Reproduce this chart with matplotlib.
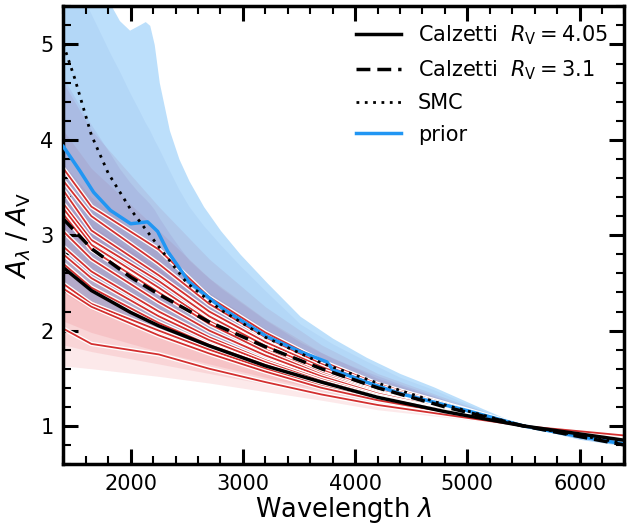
import numpy as np
import matplotlib
matplotlib.use("Agg")
import matplotlib.pyplot as plt
import matplotlib.patheffects as pe
from matplotlib.ticker import MultipleLocator

# wavelength nodes (Angstrom)
wave = [1400, 1650, 2250, 2700, 3200, 3700, 4200, 5500, 6400]
wave_fid = [1400, 1650, 2000, 2250, 2700, 3200, 3700, 4200, 4800, 5500, 6400]

# fiducial curves
calz_405 = [2.66, 2.42, 2.19, 2.05, 1.84, 1.63, 1.46, 1.30, 1.15, 1.00, 0.85]
calz_31 = [3.17, 2.86, 2.56, 2.38, 2.09, 1.83, 1.60, 1.40, 1.20, 1.00, 0.80]

wave_smc = [1400, 1500, 1650, 1800, 2000, 2250, 2500, 2800, 3200, 3700, 4200, 4800, 5500, 6400]
smc = [5.00, 4.65, 4.05, 3.65, 3.27, 2.88, 2.50, 2.22, 1.93, 1.66, 1.45, 1.22, 1.00, 0.82]

wave_prior = [1400, 1550, 1670, 1820, 2000, 2150, 2240, 2330, 2520, 2820, 3210,
              3510, 3750, 3800, 4100, 4400, 5000, 5500, 6000, 6400]
prior_med = [3.93, 3.67, 3.45, 3.26, 3.12, 3.14, 3.04, 2.83, 2.51, 2.23, 1.94,
             1.78, 1.67, 1.59, 1.46, 1.34, 1.16, 1.00, 0.89, 0.81]

# prior bands (outer to inner)
wave_pb = [1400, 1615, 1820, 1900, 1990, 2070, 2130, 2170, 2210, 2255, 2345,
           2430, 2520, 2650, 2800, 2976, 3216, 3510, 3800, 4100, 4400, 4700,
           5140, 5500, 6000, 6400]
prior_hi1 = [6.2, 5.8, 5.42, 5.25, 5.15, 5.20, 5.24, 5.20, 5.00, 4.60, 4.10,
             3.80, 3.57, 3.30, 3.05, 2.80, 2.50, 2.15, 1.92, 1.72, 1.55, 1.41,
             1.18, 1.00, 0.90, 0.84]
prior_lo1 = [2.45, 2.33, 2.22, 2.17, 2.12, 2.08, 2.05, 2.03, 2.01, 1.98, 1.94,
             1.90, 1.86, 1.81, 1.75, 1.68, 1.59, 1.48, 1.39, 1.31, 1.23, 1.16,
             1.06, 1.00, 0.86, 0.79]
prior_hi2 = [6.0, 5.40, 4.90, 4.72, 4.50, 4.32, 4.18, 4.10, 4.00, 3.90, 3.68,
             3.48, 3.30, 3.10, 2.90, 2.68, 2.40, 2.07, 1.86, 1.68, 1.51, 1.38,
             1.16, 1.00, 0.89, 0.83]
prior_lo2 = [2.75, 2.60, 2.48, 2.42, 2.36, 2.31, 2.27, 2.25, 2.22, 2.18, 2.12,
             2.07, 2.02, 1.96, 1.89, 1.80, 1.69, 1.56, 1.45, 1.36, 1.27, 1.19,
             1.07, 1.00, 0.86, 0.80]
prior_hi3 = [4.65, 4.22, 3.85, 3.70, 3.56, 3.45, 3.38, 3.33, 3.27, 3.18, 3.02,
             2.88, 2.74, 2.60, 2.45, 2.30, 2.10, 1.88, 1.71, 1.57, 1.44, 1.32,
             1.13, 1.00, 0.885, 0.82]
prior_lo3 = [3.05, 2.88, 2.74, 2.68, 2.62, 2.57, 2.53, 2.51, 2.48, 2.44, 2.37,
             2.30, 2.24, 2.16, 2.07, 1.97, 1.82, 1.66, 1.53, 1.42, 1.31, 1.22,
             1.08, 1.00, 0.87, 0.80]

# posterior bands (outer to inner)
post_lo = [
    [1.63, 1.60, 1.52, 1.45, 1.36, 1.27, 1.17, 1.00, 0.92],
    [1.85, 1.78, 1.65, 1.55, 1.44, 1.33, 1.22, 1.00, 0.91],
    [2.10, 1.98, 1.78, 1.65, 1.51, 1.38, 1.26, 1.00, 0.90],
    [2.40, 2.22, 1.95, 1.77, 1.59, 1.43, 1.30, 1.00, 0.89],
]
post_hi = [
    [4.60, 4.10, 3.30, 2.75, 2.25, 1.85, 1.55, 1.00, 0.85],
    [4.10, 3.70, 3.05, 2.55, 2.12, 1.77, 1.50, 1.00, 0.855],
    [3.75, 3.40, 2.85, 2.40, 2.02, 1.71, 1.46, 1.00, 0.86],
    [3.40, 3.10, 2.65, 2.25, 1.92, 1.65, 1.42, 1.00, 0.87],
]

# posterior samples
samples = [
    [3.70, 3.30, 2.85, 2.35, 1.98, 1.68, 1.44, 1.00, 0.86],
    [3.57, 3.20, 2.70, 2.28, 1.93, 1.65, 1.42, 1.00, 0.86],
    [3.47, 3.05, 2.58, 2.20, 1.88, 1.62, 1.40, 1.00, 0.87],
    [3.33, 2.95, 2.52, 2.15, 1.84, 1.59, 1.38, 1.00, 0.87],
    [3.28, 2.90, 2.45, 2.10, 1.80, 1.56, 1.36, 1.00, 0.87],
    [3.22, 2.85, 2.40, 2.07, 1.78, 1.54, 1.35, 1.00, 0.88],
    [3.04, 2.75, 2.30, 2.00, 1.74, 1.52, 1.34, 1.00, 0.88],
    [2.88, 2.62, 2.20, 1.93, 1.69, 1.49, 1.32, 1.00, 0.88],
    [2.80, 2.55, 2.15, 1.90, 1.67, 1.47, 1.31, 1.00, 0.88],
    [2.70, 2.45, 2.08, 1.85, 1.64, 1.45, 1.30, 1.00, 0.89],
    [2.49, 2.28, 2.00, 1.80, 1.60, 1.42, 1.28, 1.00, 0.89],
    [2.44, 2.25, 1.95, 1.76, 1.57, 1.40, 1.27, 1.00, 0.89],
    [2.02, 1.86, 1.75, 1.60, 1.46, 1.33, 1.22, 1.00, 0.90],
]

fig = plt.figure(figsize=(6.27, 5.25), dpi=100)
ax = fig.add_axes([0.101, 0.116, 0.895, 0.872])

# posterior bands
for lo, hi in zip(post_lo, post_hi):
    ax.fill_between(wave, lo, hi, color='#e53945', alpha=0.11, lw=0)

# prior bands on top
ax.fill_between(wave_pb, prior_lo1, prior_hi1, color='#2196f3', alpha=0.3, lw=0)
ax.fill_between(wave_pb, prior_lo2, prior_hi2, color='#3f6fd0', alpha=0.07, lw=0)
ax.fill_between(wave_pb, prior_lo3, prior_hi3, color='#7a4fa8', alpha=0.1, lw=0)

for s in samples:
    ax.plot(wave, s, color='#d32f2f', lw=1.3,
            path_effects=[pe.Stroke(linewidth=3.2, foreground='white'), pe.Normal()])

ax.plot(wave_prior, prior_med, color='#2196f3', lw=2.5, label='prior', zorder=5)
ax.plot(wave_fid, calz_405, color='black', lw=2.5,
        label=r'Calzetti  $R_{\rm V} = 4.05$', zorder=6)
ax.plot(wave_fid, calz_31, color='black', lw=2.5, ls=(0, (4, 2)),
        label=r'Calzetti  $R_{\rm V} = 3.1$', zorder=6)
ax.plot(wave_smc, smc, color='black', lw=2, ls=(0, (1, 2)), label='SMC', zorder=6)

ax.set_xlim(1400, 6400)
ax.set_ylim(0.6, 5.4)
ax.xaxis.set_major_locator(MultipleLocator(1000))
ax.xaxis.set_minor_locator(MultipleLocator(200))
ax.yaxis.set_major_locator(MultipleLocator(1))
ax.yaxis.set_minor_locator(MultipleLocator(0.2))
ax.tick_params(which='both', direction='in', top=True, right=True, labelsize=15)
ax.tick_params(which='major', length=11, width=2.2, pad=7)
ax.tick_params(which='minor', length=6, width=1.5)
for sp in ax.spines.values():
    sp.set_linewidth(2.5)

ax.set_xlabel(r'Wavelength $\lambda$', fontsize=18.5, labelpad=1)
ax.set_ylabel(r'$A_\lambda\;/\;A_{\rm V}$', fontsize=19, labelpad=5)

h, l = ax.get_legend_handles_labels()
order = [1, 2, 3, 0]
ax.legend([h[i] for i in order], [l[i] for i in order], loc='upper right',
          frameon=False, fontsize=15, handlelength=2.2, labelspacing=0.55,
          borderaxespad=0.4)

fig.savefig('out.png', dpi=100)
